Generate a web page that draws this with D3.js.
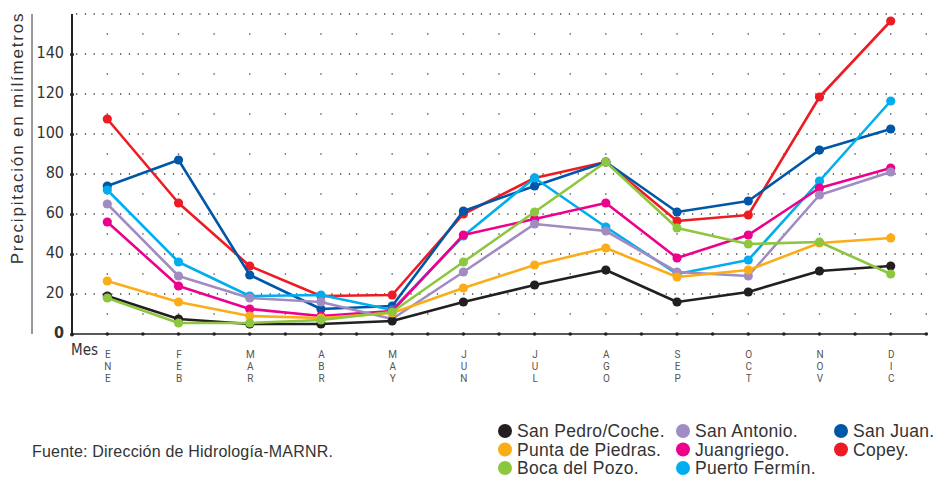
<!DOCTYPE html>
<html>
<head>
<meta charset="utf-8">
<script src="https://cdn.jsdelivr.net/npm/d3@7"></script>
<style>
body { margin: 0; background: #fff; }
svg { display: block; }
.num { font-family: "DejaVu Sans Condensed", "Liberation Sans Narrow", sans-serif; }
</style>
</head>
<body>
<svg id="svg"></svg>
<script>
// monthly rainfall (mm)
var months = ["ENE","FEB","MAR","ABR","MAY","JUN","JUL","AGO","SEP","OCT","NOV","DIC"];
var yTicks = [0, 20, 40, 60, 80, 100, 120, 140];

var sanPedro     = [19, 7.5, 5, 5, 6.5, 16, 24.5, 32, 16, 21, 31.5, 34];
var puntaPiedras = [26.5, 16, 9, 8, 10.5, 23, 34.5, 43, 28.5, 32, 45.5, 48];
var bocaPozo     = [18, 5.5, 5.5, 7, 11, 36, 61, 86, 53, 45, 46, 30];
var sanAntonio   = [65, 29, 18, 16, 7.5, 31, 55, 51.5, 31, 29, 69.5, 81];
var juangriego   = [56, 24, 12.5, 9, 11.5, 49.5, 57.5, 65.5, 38, 49.5, 73, 83];
var puertoFermin = [72, 36, 19, 19.5, 12, 49, 78, 53.5, 30, 37, 76.5, 116.5];
var sanJuan      = [74, 87, 29.5, 12.5, 14, 61.5, 74, 86, 61, 66.5, 92, 102.5];
var copey        = [107.5, 65.5, 34, 19, 19.5, 60, 78, 86, 56.5, 59.5, 118.5, 156.5];

var seriesNames  = ["San Pedro/Coche.", "Punta de Piedras.", "Boca del Pozo.", "San Antonio.",
                    "Juangriego.", "Puerto Fermín.", "San Juan.", "Copey."];
var seriesColors = ["#231f20", "#fbad18", "#8dc63f", "#a08bc3", "#ec008c", "#00aeef", "#0057a8", "#ed1c24"];
var seriesValues = [sanPedro, puntaPiedras, bocaPozo, sanAntonio, juangriego, puertoFermin, sanJuan, copey];

//////////////////////////////////////////////////////////////////////////////

var width = 937, height = 480;
var svg = d3.select("#svg").attr("width", width).attr("height", height);

var x = d3.scalePoint().domain(months).range([107.3, 890.7]);
var y = d3.scaleLinear().domain([0, 160]).range([334, 14]);
var step = x.step();

var series = seriesNames.map(function(n, i) {
    return { name: n, color: seriesColors[i], values: seriesValues[i] };
});

// dotted grid
var grid = svg.append("g");
grid.selectAll("line.h")
    .data(d3.range(20, 161, 20))
    .enter().append("line")
    .attr("x1", 76).attr("x2", 927)
    .attr("y1", function(d) { return y(d); })
    .attr("y2", function(d) { return y(d); })
    .attr("stroke", "#444").attr("stroke-width", 1.3)
    .attr("stroke-dasharray", "1.3,7.5");

var cols = [];
months.forEach(function(m, i) {
    cols.push(x(m));
    cols.push(x(m) + step / 2);
});
var rows = d3.range(10, 160, 20);
cols.forEach(function(cx) {
    grid.selectAll(null).data(rows).enter().append("rect")
        .attr("x", cx - 0.7).attr("y", function(d) { return y(d) - 0.7; })
        .attr("width", 1.4).attr("height", 1.4).attr("fill", "#555");
});

// y axis
svg.append("line").attr("x1", 32).attr("x2", 32).attr("y1", 14).attr("y2", 334)
    .attr("stroke", "#333").attr("stroke-width", 1);

var yAxis = svg.append("g").attr("transform", "translate(72,0)")
    .call(d3.axisLeft(y).tickValues(yTicks).tickSize(0).tickPadding(8));
yAxis.select(".domain").remove();
yAxis.append("line").attr("y1", 14).attr("y2", 334).attr("stroke", "#222").attr("stroke-width", 2);
yAxis.selectAll(".tick text")
    .attr("class", "num")
    .attr("font-size", 16).attr("fill", "#333").attr("dy", "0.2em")
    .attr("font-weight", function(d) { return d === 0 ? "bold" : "normal"; });
yAxis.selectAll(".tick").append("circle").attr("r", 2).attr("fill", "#222");

svg.append("text")
    .attr("transform", "translate(23,138) rotate(-90)")
    .attr("text-anchor", "middle")
    .attr("font-family", "Liberation Sans, sans-serif")
    .attr("font-size", 17).attr("letter-spacing", 1.8).attr("fill", "#333")
    .text("Precipitación en milímetros");

// x axis
var xAxis = svg.append("g").attr("transform", "translate(0,334)")
    .call(d3.axisBottom(x).tickSize(0).tickPadding(0));
xAxis.select(".domain").remove();
xAxis.append("line").attr("x1", 72).attr("x2", 927).attr("stroke", "#222").attr("stroke-width", 1.5);
xAxis.selectAll(".tick text").remove();
xAxis.selectAll(".tick").each(function(m) {
    var t = d3.select(this).append("text")
        .attr("text-anchor", "middle")
        .attr("font-family", "Roboto, sans-serif")
        .attr("font-size", 10).attr("fill", "#555");
    m.split("").forEach(function(ch, k) {
        t.append("tspan").attr("x", 0).attr("y", 23.5 + k * 12).text(ch);
    });
});
xAxis.selectAll("circle.tk").data(cols).enter().append("circle")
    .attr("cx", function(d) { return d; }).attr("r", 1.8).attr("fill", "#222");

svg.append("text").attr("class", "num")
    .attr("x", 71).attr("y", 355)
    .attr("font-size", 15).attr("fill", "#333")
    .text("Mes");

// lines
var line = d3.line()
    .x(function(d, i) { return x(months[i]); })
    .y(function(d) { return y(d); });

var drawOrder = [7, 6, 5, 4, 3, 0, 1, 2];
drawOrder.forEach(function(i) {
    var s = series[i];
    var g = svg.append("g");
    g.append("path").datum(s.values).attr("d", line)
        .attr("fill", "none").attr("stroke", s.color).attr("stroke-width", 2.6)
        .attr("stroke-linejoin", "round");
    g.selectAll("circle").data(s.values).enter().append("circle")
        .attr("cx", function(d, k) { return x(months[k]); })
        .attr("cy", function(d) { return y(d); })
        .attr("r", 4.6).attr("fill", s.color);
});

// legend
var legX = [505, 683, 841];
var leg = svg.append("g").selectAll("g").data(series).enter().append("g")
    .attr("transform", function(d, i) {
        return "translate(" + legX[Math.floor(i / 3)] + "," + (431 + (i % 3) * 18.5) + ")";
    });
leg.append("circle").attr("r", 7).attr("fill", function(d) { return d.color; });
leg.append("text").attr("x", 12).attr("dy", "0.36em")
    .attr("font-family", "Liberation Sans, sans-serif")
    .attr("font-size", 17.5).attr("letter-spacing", 0.3).attr("fill", "#333")
    .text(function(d) { return d.name; });

svg.append("text")
    .attr("x", 32).attr("y", 457)
    .attr("font-family", "Liberation Sans, sans-serif")
    .attr("font-size", 16).attr("letter-spacing", 0.2).attr("fill", "#333")
    .text("Fuente: Dirección de Hidrología-MARNR.");
</script>
</body>
</html>
